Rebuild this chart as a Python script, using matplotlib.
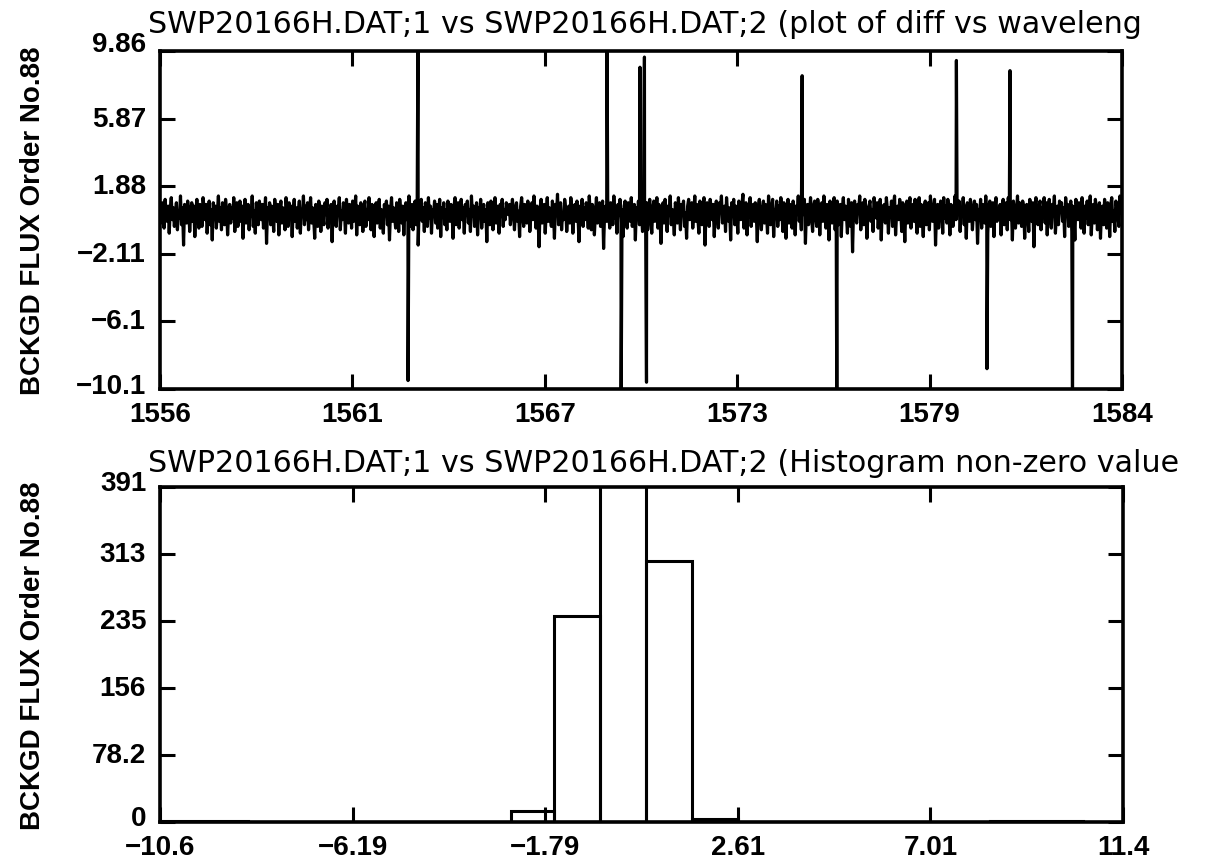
"""SWP20166H order 88: background flux difference and its histogram."""
import matplotlib
matplotlib.use("Agg")
import matplotlib.pyplot as plt
import numpy as np

TITLE_DIFF = "SWP20166H.DAT;1 vs SWP20166H.DAT;2 (plot of diff vs waveleng"
TITLE_HIST = "SWP20166H.DAT;1 vs SWP20166H.DAT;2 (Histogram non-zero value"
YLABEL = "BCKGD FLUX Order No.88"

# difference trace, evenly sampled between the wavelength limits
WL_MIN, WL_MAX = 1556.0, 1584.0
diff_noise = [
    0.4, -0.3, 0.9, 0.1, -0.6, 1.1, 0.3, -0.2, 0.7, -0.9, 0.5, 1.2, -0.1, 0.6, -0.5, 0.2, 0.9, -0.7, 0.4, 0.0,
    1.3, -0.4, 0.6, -1.6, 0.8, 0.2, -0.3, 1.0, 0.5, -0.8, 0.3, 0.9, -0.2, 0.7, -1.1, 0.4, 1.1, 0.0, -0.6, 0.8,
    0.3, -0.5, 1.2, 0.6, -0.1, 0.8, -0.9, 0.2, 1.0, -0.4, 0.5, -1.3, 0.9, 0.1, 0.7, -0.6, 0.4, 1.3, -0.2, 0.6,
    -0.7, 0.9, 0.2, -0.4, 1.1, 0.5, -1.0, 0.3, 0.8, -0.3, 0.6, 0.0, 1.2, -0.8, 0.4, 0.9, -0.5, 0.2, 1.0, -0.2,
    0.7, -1.2, 0.5, 1.1, -0.3, 0.3, 0.8, -0.7, 0.6, 0.1, 1.3, -0.5, 0.4, -0.9, 0.9, 0.2, -0.4, 1.0, 0.5, -0.1,
    0.8, -0.6, 0.3, 1.2, -1.5, 0.6, 0.0, 0.9, -0.4, 0.7, 0.2, -0.8, 1.1, 0.4, -0.2, 0.8, -1.0, 0.5, 1.0, -0.3,
    0.6, 0.1, -0.7, 1.2, 0.3, -0.5, 0.9, 0.0, 0.7, -1.1, 0.4, 1.1, -0.2, 0.6, -0.6, 0.3, 1.0, -0.9, 0.5, 0.2,
    1.3, -0.4, 0.7, -0.1, 0.9, -0.7, 0.4, 1.2, -0.3, 0.6, 0.0, -1.2, 0.8, 0.3, -0.5, 1.0, 0.5, -0.8, 0.7, 0.1,
    -0.4, 0.9, 0.2, 1.1, -0.6, 0.5, -0.2, 0.8, -1.4, 0.6, 1.0, 0.0, -0.5, 0.7, 0.3, 1.2, -0.7, 0.4, -0.1, 0.9,
    0.5, -0.9, 1.1, 0.2, -0.3, 0.8, 0.6, -0.6, 1.0, -0.2, 0.4, 1.3, -1.0, 0.7, 0.1, -0.4, 0.9, 0.3, -0.8, 0.6,
    1.0, -0.5, 0.5, -0.1, 1.2, 0.2, -0.7, 0.8, 0.4, -1.1, 0.6, 0.9, -0.3, 0.3, 1.1, -0.6, 0.5, 0.0, -0.9, 0.8,
    0.2, 1.0, -0.4, 0.7, -1.3, 0.4, 1.2, -0.2, 0.6, 0.1, -0.6, 0.9, 0.5, -0.8, 1.1, 0.3, -0.3, 0.7, -1.0, 0.4,
    0.9, -0.1, 0.6, 1.3, -0.5, 0.2, 0.8, -0.7, 0.5, 1.0, -0.4, 0.3, -1.6, 0.7, 0.1, 1.1, -0.2, 0.6, -0.8, 0.9,
    0.4, -0.5, 1.2, 0.0, 0.7, -0.9, 0.5, 0.2, 1.0, -0.3, 0.8, -0.6, 0.3, 1.1, -1.1, 0.6, 0.1, 0.9, -0.4, 0.5,
    -0.7, 1.0, 0.3, -0.2, 0.8, 0.5, -1.2, 0.7, 1.2, -0.4, 0.2, 0.9, -0.6, 0.4, 1.1, -0.1, 0.6, -0.9, 0.8, 0.3,
    1.0, -0.3, 0.5, -0.8, 1.3, 0.1, 0.7, -0.5, 0.4, 0.9, -1.0, 0.6, 0.2, 1.1, -0.6, 0.3, 0.8, -0.2, 0.5, -1.4,
    0.9, 0.2, -0.4, 1.0, 0.6, -0.7, 0.4, 1.2, -0.3, 0.7, 0.0, -0.9, 0.8, 0.3, 1.1, -0.5, 0.5, -0.1, 0.9, 0.4,
    0.2, 0.8, -0.4, 0.5, 1.1, 0.3, -0.7, 0.6, 0.9, -0.2, 0.4, -1.1, 0.7, 1.2, 0.1, -0.5, 0.8, 0.3, -0.3, 1.0,
    0.5, -0.8, 0.2, 0.9, -0.1, 1.3, 0.4, -0.6, 0.7, 0.0, -1.7, 0.6, 1.1, -0.3, 0.5, 0.8, -0.9, 0.3, 1.2, -0.2,
    0.6, 0.1, -0.5, 1.0, 0.4, -1.2, 0.8, 0.2, 1.4, -0.4, 0.5, 0.9, -0.7, 0.3, -0.1, 1.1, 0.6, -0.8, 0.2, 0.7,
    -0.3, 1.2, 0.5, -0.9, 0.4, 0.8, -0.2, 1.0, 0.1, -1.4, 0.7, 0.3, 1.1, -0.5, 0.6, -0.1, 0.9, 0.4, -0.6, 1.3,
    0.2, -0.7, 0.8, 0.5, -1.0, 0.3, 1.2, -0.3, 0.6, 0.9, -0.5, 0.1, 1.0, -1.8, 0.4, 0.7, -0.2, 1.1, 0.3, -0.6,
    0.9, 0.4, -0.4, 1.3, 0.0, 0.6, -0.9, 0.8, 0.2, 1.1, -0.3, 0.5, -1.1, 0.7, 1.0, 0.1, -0.6, 0.9, 0.4, -0.2,
    1.2, -0.5, 0.3, 0.8, -1.3, 0.6, 0.1, 1.0, -0.4, 0.7, 0.2, -0.8, 1.3, 0.5, -0.1, 0.9, -0.7, 0.4, 1.1, 0.0,
    -0.9, 0.6, 1.0, -0.2, 0.3, 1.2, -0.6, 0.8, 0.1, -1.5, 0.5, 0.9, -0.3, 1.1, 0.4, -0.8, 0.7, 0.2, 1.3, -0.4,
    0.5, 0.1, -1.0, 0.9, 0.6, -0.3, 1.2, 0.2, -0.7, 0.8, 0.4, 1.0, -0.5, 0.3, -1.2, 0.7, 1.1, -0.1, 0.6, 0.9,
    -0.6, 0.3, 1.3, -0.2, 0.8, 0.0, -0.9, 1.0, 0.5, -0.4, 0.7, 1.2, -1.6, 0.4, 0.9, 0.2, -0.5, 1.1, 0.6, -0.1,
    0.8, -1.1, 0.4, 1.0, 0.2, -0.6, 0.9, 0.5, 1.3, -0.3, 0.1, 0.7, -0.8, 1.2, 0.3, -0.2, 0.6, -1.3, 0.9, 0.4,
    1.1, -0.4, 0.7, 0.2, -0.9, 1.0, 0.5, -0.1, 0.8, 1.4, -0.6, 0.3, 0.9, -1.0, 0.6, 0.1, 1.2, -0.5, 0.4, 0.8,
    -0.2, 0.9, 0.3, -1.4, 0.7, 1.1, 0.0, -0.7, 0.5, 1.0, -0.3, 0.8, 0.2, -0.9, 1.3, 0.4, -0.4, 0.6, 1.1, -1.1,
    0.5, 0.2, 1.0, -0.5, 0.7, -0.1, 1.2, 0.4, -0.8, 0.9, 0.3, -1.2, 0.6, 1.1, -0.3, 0.8, 0.1, -0.6, 1.0, 0.5,
    -1.0, 0.7, 0.4, 1.3, -0.2, 0.6, -0.7, 0.9, 0.2, 1.1, -1.5, 0.5, 0.8, -0.4, 0.3, 1.2, 0.0, -0.8, 0.7, 1.0,
    0.1, -0.5, 1.1, 0.6, -1.0, 0.4, 0.9, -0.2, 1.3, 0.3, -0.6, 0.8, 0.5, -1.3, 1.0, 0.2, -0.3, 0.7, 1.2, -0.7,
    0.6, 1.0, -0.4, 0.3, 0.8, -1.1, 0.5, 1.2, -0.1, 0.7, 0.2, -0.9, 1.1, 0.4, -0.5, 0.9, -2.0, 0.6, 1.0, 0.1,
    -0.3, 0.8, 0.5, 1.3, -0.7, 0.2, 0.9, -0.4, 1.1, 0.6, -1.2, 0.3, 0.7, 1.0, -0.2, 0.5, -0.8, 1.2, 0.4, 0.0,
    0.9, -0.6, 0.4, 1.1, -1.3, 0.7, 0.1, 0.8, -0.3, 1.2, 0.5, -0.9, 0.6, 0.2, 1.0, -0.5, 0.8, 1.3, -1.0, 0.3,
    0.7, -0.1, 1.1, 0.4, -0.8, 0.9, 0.2, -1.4, 0.6, 1.0, -0.3, 0.5, 1.2, -0.6, 0.3, 0.8, -0.2, 1.1, 0.0, -0.9,
    0.4, 1.2, -0.5, 0.8, 0.1, -1.1, 0.7, 1.0, -0.4, 0.5, 0.9, -0.7, 1.3, 0.2, -0.2, 0.6, 1.1, -1.6, 0.4, 0.8,
    -0.6, 0.3, 1.0, 0.5, -0.9, 1.2, 0.0, 0.7, -0.3, 1.1, 0.4, -1.0, 0.8, 0.6, -0.5, 0.2, 1.3, -0.1, 0.9, 0.3,
    1.0, -0.8, 0.5, 0.2, 1.2, -0.4, 0.7, -1.2, 0.9, 0.3, -0.2, 1.1, 0.6, -0.7, 0.4, 1.0, -0.1, 0.8, -1.5, 0.5,
    0.2, 1.1, -0.6, 0.8, 0.4, -0.3, 1.3, 0.1, -0.9, 0.7, 1.0, -0.5, 0.3, 0.9, -1.1, 0.6, 1.2, -0.2, 0.5, 0.0,
    0.8, -1.0, 0.6, 1.1, -0.4, 0.3, 0.9, -0.7, 1.2, 0.2, -0.1, 0.7, -1.3, 1.0, 0.5, -0.6, 0.4, 1.3, -0.3, 0.9,
    0.1, -0.5, 1.0, 0.7, -1.2, 0.4, 0.8, 0.2, -0.8, 1.1, 0.6, -0.2, 0.9, -1.7, 0.5, 1.2, 0.0, -0.4, 0.7, 1.0,
    -0.7, 0.6, 0.3, 1.2, -0.3, 0.9, -1.0, 0.5, 1.1, 0.1, -0.6, 0.8, 0.4, 1.3, -0.9, 0.2, 0.7, -0.4, 1.0, 0.5,
    0.9, -0.2, 0.6, -1.1, 1.2, 0.3, 0.8, -0.5, 0.1, 1.0, -0.8, 0.7, 0.4, -1.3, 1.1, 0.6, -0.1, 0.9, 0.2, -0.6,
    1.2, 0.4, -0.9, 0.7, 0.0, 1.0, -0.4, 0.5, 1.3, -1.0, 0.3, 0.8, -0.3, 1.1, 0.6, -0.7, 0.2, 0.9, -1.2, 0.5,
    0.7, -0.4, 1.1, 0.3, -0.6, 0.9, 0.5, -1.1, 0.8, 1.2, -0.2, 0.4, -0.8, 1.0, 0.6, 0.1, -0.5, 1.3, 0.3, 0.6,
]
# isolated hits (values outside the axis range get clipped by the frame)
spike_wl = [1563.22, 1563.51, 1569.01, 1569.42, 1569.97, 1570.10, 1570.16,
            1574.69, 1575.70, 1579.18, 1580.07, 1580.74, 1582.56]
spike_val = [-9.6, 12.0, 12.0, -12.0, 8.9, 9.5, -9.7,
             8.4, -12.0, 9.3, -8.9, 8.7, -12.0]

diff_yticks = [-10.1, -6.1, -2.11, 1.88, 5.87, 9.86]
diff_ylabels = ["\u221210.1", "\u22126.1", "\u22122.11", "1.88", "5.87", "9.86"]
diff_xticks = [1556.0, 1561.6, 1567.2, 1572.8, 1578.4, 1584.0]
diff_xlabels = ["1556", "1561", "1567", "1573", "1579", "1584"]

# histogram of non-zero differences
bin_lo = [-10.60, -2.59, -1.60, -0.55, 0.50, 1.55, 8.36]
bin_hi = [-8.59, -1.60, -0.55, 0.50, 1.55, 2.61, 10.49]
counts = [1.5, 13, 240, 520, 305, 4, 1.5]

hist_yticks = [0, 78.2, 156.4, 234.6, 312.8, 391]
hist_ylabels = ["0", "78.2", "156", "235", "313", "391"]
hist_xticks = [-10.6, -6.2, -1.8, 2.6, 7.0, 11.4]
hist_xlabels = ["\u221210.6", "\u22126.19", "\u22121.79", "2.61", "7.01", "11.4"]

W, H = 1210, 862
TICK_FONT = dict(family="Liberation Sans", weight="bold", size=20)
TITLE_FONT = dict(family="DejaVu Sans", size=21.7)


def style_axes(ax, xticks, xlabels, yticks, ylabels, yshift, xpad):
    for s in ax.spines.values():
        s.set_linewidth(2.6)
    ax.set_xticks(xticks)
    ax.set_xticklabels(xlabels, fontdict=TICK_FONT)
    ax.set_yticks(yticks)
    ax.set_yticklabels([])
    ax.tick_params(direction="in", length=11, width=2.2, top=True, right=True)
    ax.tick_params(axis="x", pad=xpad)
    # y labels drawn by hand so the end ones can be nudged upward
    for val, txt, dy in zip(yticks, ylabels, yshift):
        ax.annotate(txt, xy=(0, val), xycoords=("axes fraction", "data"),
                    xytext=(-10, dy), textcoords="offset points",
                    ha="right", va="center", **TICK_FONT)
    ax.set_ylabel(YLABEL, family="Liberation Sans", weight="bold", size=20,
                  ha="center", va="center")
    ax.yaxis.set_label_coords(-127 / ax.bbox.width, 0.5)


def main() -> None:
    fig = plt.figure(figsize=(W / 100, H / 100), dpi=100)
    ax1 = fig.add_axes([160 / W, 1 - 390 / H, 962 / W, 338 / H])
    ax2 = fig.add_axes([160 / W, 1 - 823 / H, 963 / W, 335 / H])

    wl = np.concatenate([np.linspace(WL_MIN, WL_MAX, len(diff_noise)), spike_wl])
    diff = np.concatenate([diff_noise, spike_val])
    order = np.argsort(wl)
    ax1.plot(wl[order], diff[order], color="black", lw=2.3)
    ax1.set_xlim(WL_MIN, WL_MAX)
    ax1.set_ylim(diff_yticks[0], diff_yticks[-1])
    style_axes(ax1, diff_xticks, diff_xlabels, diff_yticks, diff_ylabels,
               [2, 0, 0, 0, 0, 5], 9)

    widths = np.array(bin_hi) - np.array(bin_lo)
    ax2.bar(bin_lo, counts, width=widths, align="edge", fill=False,
            edgecolor="black", linewidth=2.2)
    ax2.set_xlim(hist_xticks[0], hist_xticks[-1])
    ax2.set_ylim(hist_yticks[0], hist_yticks[-1])
    style_axes(ax2, hist_xticks, hist_xlabels, hist_yticks, hist_ylabels,
               [3, 0, 0, 0, 0, 3], 9)

    fig.text(148 / W, 1 - 33 / H, TITLE_DIFF, ha="left", va="baseline", **TITLE_FONT)
    fig.text(148 / W, 1 - 472 / H, TITLE_HIST, ha="left", va="baseline", **TITLE_FONT)

    fig.savefig("out.png", dpi=100)
    plt.close(fig)


if __name__ == "__main__":
    main()
